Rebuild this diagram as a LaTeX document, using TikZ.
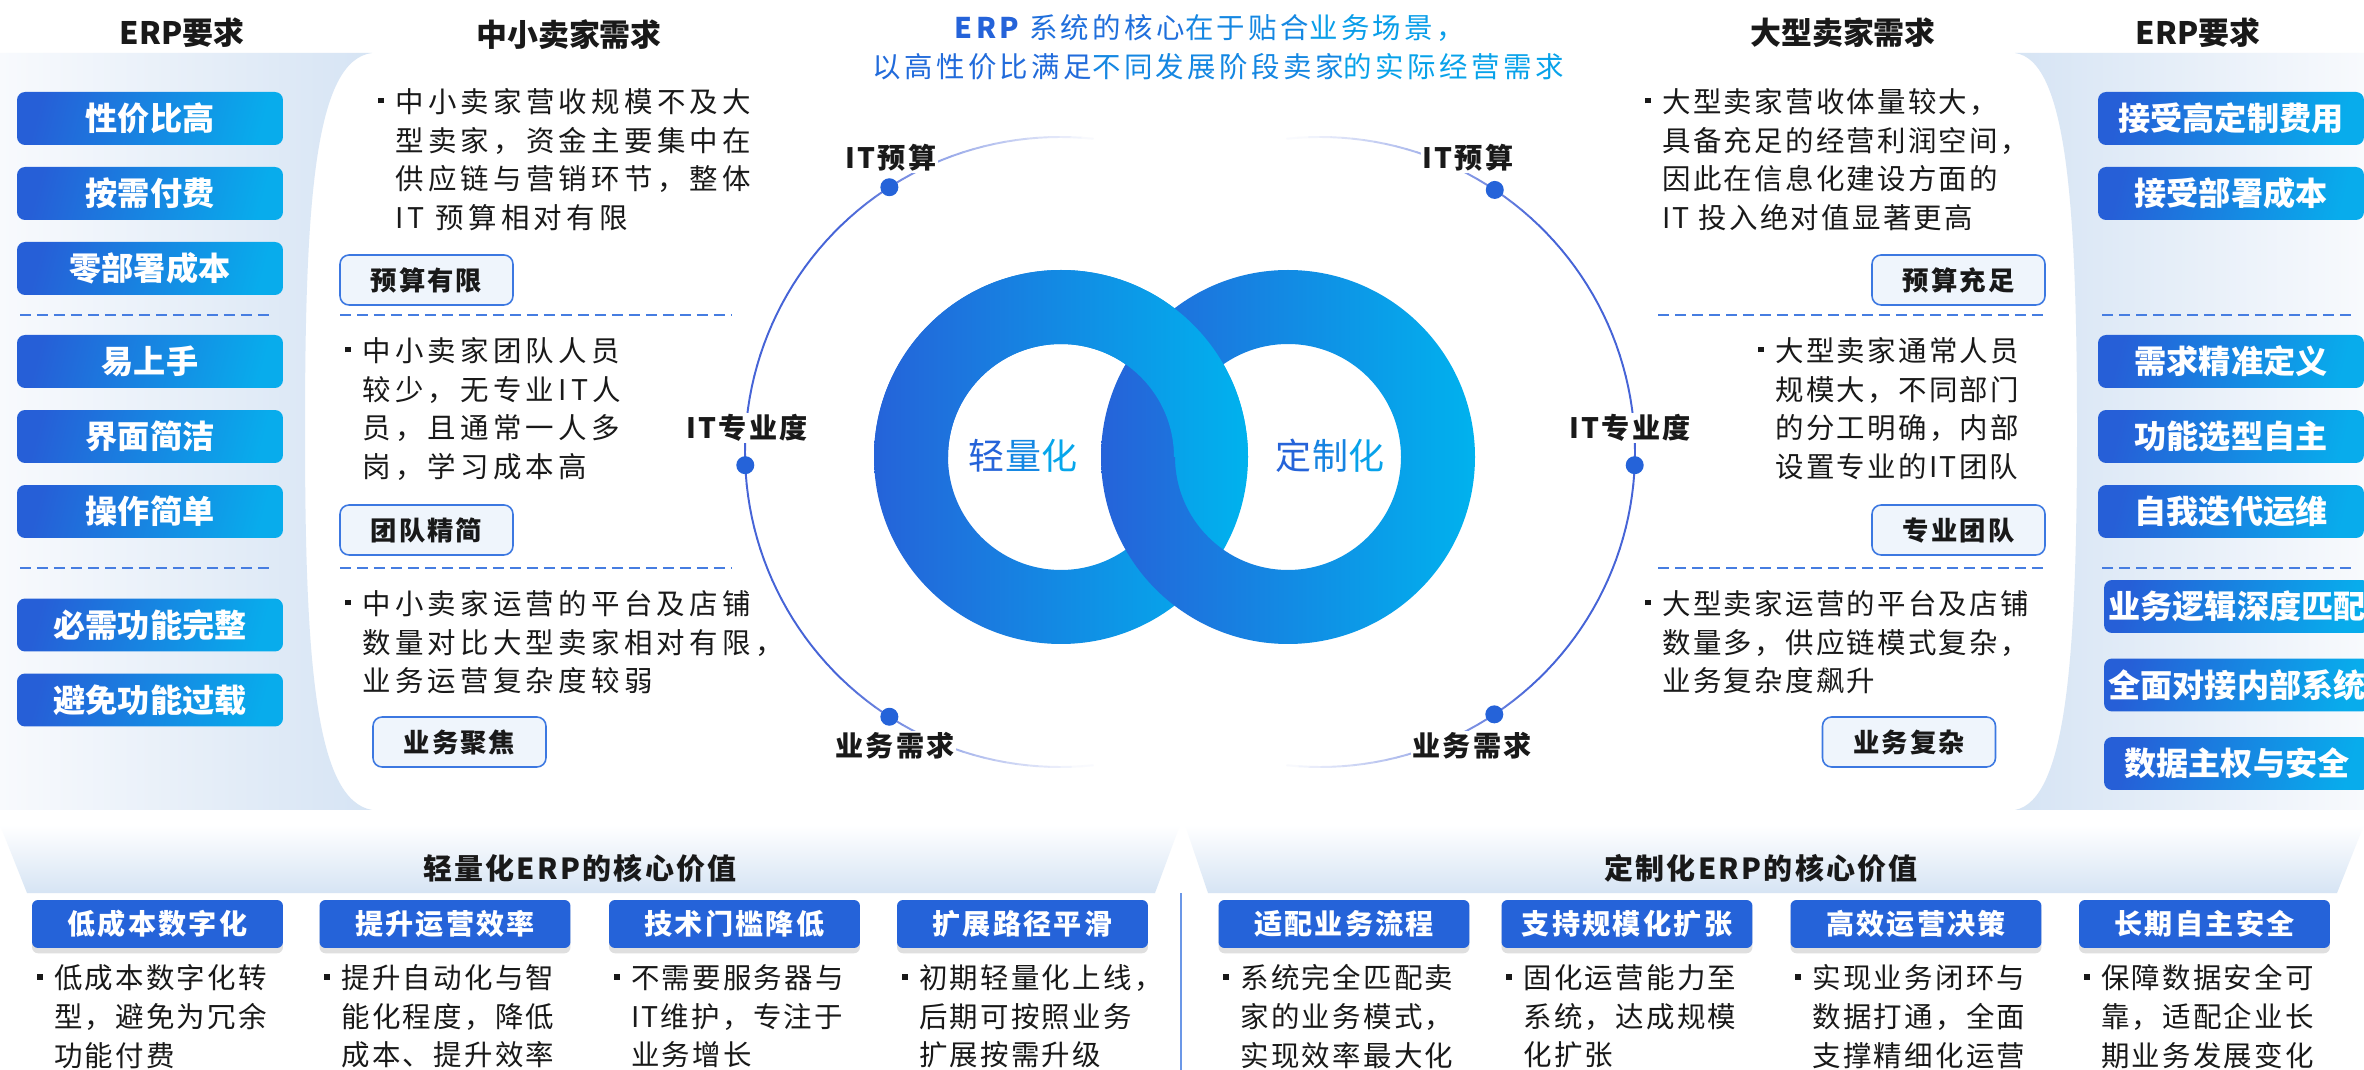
\documentclass[tikz,border=0pt]{standalone}
\usepackage{fontspec}
\setmainfont{Noto Sans CJK SC}
\newfontfamily\bodyfont[LetterSpace=15]{Noto Sans CJK SC}
\newfontfamily\tightfont[LetterSpace=8]{Noto Sans CJK SC}
\newfontfamily\titlefont[LetterSpace=12]{Noto Sans CJK SC}
\usepackage{tikz}
\usetikzlibrary{calc,positioning,shadows}
\definecolor{erpBlue}{RGB}{38,95,215}
\definecolor{erpCyan}{RGB}{8,172,236}
\definecolor{ringBlue}{RGB}{37,99,217}
\definecolor{ringCyan}{RGB}{0,178,238}
\definecolor{tagBlue}{RGB}{60,120,225}
\definecolor{tagFill}{RGB}{239,245,252}
\definecolor{dashBlue}{RGB}{70,125,225}
\definecolor{panelBlue}{RGB}{214,228,244}
\definecolor{panelWhite}{RGB}{248,250,253}
\definecolor{arcBlue}{RGB}{70,100,215}
\definecolor{valBlue}{RGB}{37,99,217}
\definecolor{inkBlack}{RGB}{25,25,25}
\newcommand\bulmark{\llap{\rule[0.32em]{0.2em}{0.2em}\hspace{0.4em}}}
\tikzset{
  erpBox/.style   = {rectangle, rounded corners=0.16cm, left color=erpBlue,
                     right color=erpCyan, shading angle=75, inner sep=0,
                     minimum width=5.32cm, minimum height=1.06cm, text=white,
                     font=\fontsize{18.3}{20}\selectfont\bfseries},
  needTag/.style  = {rectangle, rounded corners=0.18cm, draw=tagBlue,
                     line width=0.9pt, fill=tagFill, minimum width=3.46cm,
                     minimum height=1cm, text=inkBlack,
                     font=\tightfont\fontsize{15}{18}\selectfont\bfseries},
  needText/.style = {anchor=north west, align=left, inner sep=0, text=inkBlack,
                     font=\bodyfont\fontsize{16.2}{22}\selectfont},
  tightText/.style= {needText, font=\tightfont\fontsize{16.2}{22}\selectfont},
  sepLine/.style  = {draw=dashBlue, dash pattern=on 0.22cm off 0.12cm,
                     line width=0.8pt},
  headTxt/.style  = {text=inkBlack, font=\fontsize{17.6}{20}\selectfont\bfseries},
  secHead/.style  = {text=inkBlack,
                     font=\tightfont\fontsize{16.5}{20}\selectfont\bfseries},
  arcSeg/.style   = {line width=1.1pt, line cap=round},
  arcDot/.style   = {circle, fill=ringBlue, inner sep=0, minimum size=0.36cm},
  arcLabel/.style = {fill=white, inner sep=1pt, text=inkBlack,
                     font=\tightfont\fontsize{16}{18}\selectfont\bfseries},
  ringShade/.style= {left color=ringBlue, right color=ringCyan, even odd rule},
  ringTxt/.style  = {font=\titlefont\fontsize{20.5}{24}\selectfont},
  titleTxt/.style = {font=\titlefont\fontsize{16.2}{20}\selectfont},
  valBox/.style   = {rectangle, rounded corners=0.12cm, fill=valBlue,
                     minimum width=5.02cm, minimum height=0.96cm, text=white,
                     font=\tightfont\fontsize{16}{18}\selectfont\bfseries,
                     drop shadow={shadow xshift=0pt, shadow yshift=-3pt,
                                  opacity=0.25}},
}
\begin{document}
\begin{tikzpicture}[x=0.02cm, y=-0.02cm]
  \useasboundingbox (0,0) rectangle (2364,1070);
  \fill[white] (0,0) rectangle (2364,1070);
  % side panels and lower bands
  \shade[left color=panelWhite, right color=panelBlue] (0,53) -- (372,53)
      .. controls (315,60) and (305,200) .. (305,430)
      .. controls (305,660) and (315,800) .. (372,810) -- (0,810) -- cycle;
  \shade[left color=panelBlue, right color=panelWhite] (2364,53) -- (2015,53)
      .. controls (2066,60) and (2077,200) .. (2077,430)
      .. controls (2077,660) and (2066,800) .. (2015,810) -- (2364,810) -- cycle;
  \shade[top color=white, bottom color=panelBlue]
      (0,825) -- (1180,825) -- (1155,893) -- (27,893) -- cycle;
  \shade[top color=white, bottom color=panelBlue]
      (1185,825) -- (2364,825) -- (2337,893) -- (1208,893) -- cycle;
  \draw[dashBlue!80, line width=0.8pt] (1181,893) -- (1181,1070);

  % headings
  \node[headTxt] (hL) at (182,33) {ERP要求};
  \node[headTxt] (hSm) at (569,35) {中小卖家需求};
  \node[headTxt] (hLg) at (1843,33) {大型卖家需求};
  \node[headTxt] (hR) at (2198,33) {ERP要求};
  \node[titleTxt] (ttl1) at (1210,28) {\textcolor{ringBlue}{\bfseries ERP}
      \textcolor{ringBlue!85!ringCyan}{系统的核心}\textcolor{ringBlue!55!ringCyan}{在于贴合}\textcolor{ringBlue!25!ringCyan}{业务场景，}};
  \node[titleTxt] (ttl2) at (1218,67) {\textcolor{ringBlue!90!ringCyan}{以高性价比满足}\textcolor{ringBlue!55!ringCyan}{不同发展阶段卖家}\textcolor{ringBlue!20!ringCyan}{的实际经营需求}};

  % ERP requirement boxes
  \foreach \y/\t/\n in {118.5/性价比高/la, 193.5/按需付费/lb, 268.5/零部署成本/lc,
      361.5/易上手/ld, 436.5/界面简洁/le, 511.5/操作简单/lf,
      625/必需功能完整/lg, 700/避免功能过载/lh}{
    \node[erpBox] (\n) at (150,\y) {\t};
  }
  \foreach \x/\y/\t/\n in {2231/118.5/接受高定制费用/ra, 2231/193.5/接受部署成本/rb,
      2231/361.5/需求精准定义/rc, 2231/436.5/功能选型自主/rd,
      2231/511.5/自我迭代运维/re, 2237/606.5/业务逻辑深度匹配/rf,
      2237/685/全面对接内部系统/rg, 2237/763.5/数据主权与安全/rh}{
    \node[erpBox] (\n) at (\x,\y) {\t};
  }
  \draw[sepLine] (20,315) -- (273,315);
  \draw[sepLine] (20,568) -- (273,568);
  \draw[sepLine] (2102,315) -- (2355,315);
  \draw[sepLine] (2102,568) -- (2355,568);

  % small sellers
  \node[needText] (sm1) at (395,88) {\bulmark 中小卖家营收规模不及大\\型卖家，资金主要集中在\\供应链与营销环节，整体\\IT 预算相对有限};
  \node[needText] (sm2) at (362,337) {\bulmark 中小卖家团队人员\\较少，无专业IT人\\员，且通常一人多\\岗，学习成本高};
  \node[needText] (sm3) at (362,590) {\bulmark 中小卖家运营的平台及店铺\\数量对比大型卖家相对有限，\\业务运营复杂度较弱};
  \node[needTag] (tg1) at (426.5,280) {预算有限};
  \node[needTag] (tg2) at (426.5,530) {团队精简};
  \node[needTag] (tg3) at (459.5,742) {业务聚焦};
  \draw[sepLine] (340,315) -- (732,315);
  \draw[sepLine] (340,568) -- (732,568);

  % large sellers
  \node[tightText] (lg1) at (1662,88) {\bulmark 大型卖家营收体量较大，\\具备充足的经营利润空间，\\因此在信息化建设方面的\\IT 投入绝对值显著更高};
  \node[tightText] (lg2) at (1775,337) {\bulmark 大型卖家通常人员\\规模大，不同部门\\的分工明确，内部\\设置专业的IT团队};
  \node[tightText] (lg3) at (1662,590) {\bulmark 大型卖家运营的平台及店铺\\数量多，供应链模式复杂，\\业务复杂度飙升};
  \node[needTag] (tg4) at (1958.5,280) {预算充足};
  \node[needTag] (tg5) at (1958.5,530) {专业团队};
  \node[needTag] (tg6) at (1909,742) {业务复杂};
  \draw[sepLine] (1658,315) -- (2045,315);
  \draw[sepLine] (1658,568) -- (2045,568);

  % outer arcs
  \coordinate (lcen) at (1060,452);
  \coordinate (rcen) at (1320,452);
  \foreach \a in {84,86,...,274}{
    \pgfmathsetmacro\p{max(3,min(100,100*(96-abs(\a-180))/50))}
    \draw[arcSeg, draw=arcBlue!\p!white] ($(lcen)+(\a:315)$) -- ($(lcen)+(\a+2:315)$);
  }
  \foreach \a in {-96,-94,...,94}{
    \pgfmathsetmacro\p{max(3,min(100,100*(96-abs(\a))/50))}
    \draw[arcSeg, draw=arcBlue!\p!white] ($(rcen)+(\a:315)$) -- ($(rcen)+(\a+2:315)$);
  }
  \node[arcDot] (dl1) at ($(lcen)+(237.2:315)$) {};
  \node[arcDot] (dl2) at ($(lcen)+(177.6:315)$) {};
  \node[arcDot] (dl3) at ($(lcen)+(122.8:315)$) {};
  \node[arcDot] (dr1) at ($(rcen)+(303.7:315)$) {};
  \node[arcDot] (dr2) at ($(rcen)+(2.4:315)$) {};
  \node[arcDot] (dr3) at ($(rcen)+(56.4:315)$) {};
  \node[arcLabel] (bl1) at (891,158) {IT预算};
  \node[arcLabel] (bl2) at (747,428) {IT专业度};
  \node[arcLabel] (bl3) at (895,746) {业务需求};
  \node[arcLabel] (br1) at (1468,158) {IT预算};
  \node[arcLabel] (br2) at (1630,428) {IT专业度};
  \node[arcLabel] (br3) at (1472,746) {业务需求};

  % linked rings
  \coordinate (lring) at (1061,457);
  \coordinate (rring) at (1288,457);
  \shade[ringShade] (lring) circle[radius=187] (lring) circle[radius=113];
  \shade[ringShade] (rring) circle[radius=187] (rring) circle[radius=113];
  \begin{scope}
    \clip (850,250) rectangle (1500,457);
    \shade[ringShade] (lring) circle[radius=187] (lring) circle[radius=113];
  \end{scope}
  \node[ringTxt] (lite) at (1023,456) {\textcolor{ringBlue}{轻}\textcolor{ringBlue!55!ringCyan}{量}\textcolor{ringBlue!15!ringCyan}{化}};
  \node[ringTxt] (cust) at (1330,456) {\textcolor{ringBlue}{定}\textcolor{ringBlue!60!ringCyan}{制}\textcolor{ringBlue!20!ringCyan}{化}};

  % core values
  \node[secHead] (vh1) at (580,868) {轻量化ERP的核心价值};
  \node[secHead] (vh2) at (1761,868) {定制化ERP的核心价值};
  \foreach \x/\t/\n in {157.5/低成本数字化/v1, 445/提升运营效率/v2,
      734.5/技术门槛降低/v3, 1022.5/扩展路径平滑/v4, 1344/适配业务流程/v5,
      1627/支持规模化扩张/v6, 1916/高效运营决策/v7, 2204.5/长期自主安全/v8}{
    \node[valBox] (\n) at (\x,924) {\t};
  }
  \node[tightText, below right=0.32cm and 0.44cm of v1.south west] (c1) {\bulmark 低成本数字化转\\型，避免为冗余\\功能付费};
  \node[tightText, below right=0.32cm and 0.44cm of v2.south west] (c2) {\bulmark 提升自动化与智\\能化程度，降低\\成本、提升效率};
  \node[tightText, below right=0.32cm and 0.44cm of v3.south west] (c3) {\bulmark 不需要服务器与\\IT维护，专注于\\业务增长};
  \node[tightText, below right=0.32cm and 0.44cm of v4.south west] (c4) {\bulmark 初期轻量化上线，\\后期可按照业务\\扩展按需升级};
  \node[tightText, below right=0.32cm and 0.44cm of v5.south west] (c5) {\bulmark 系统完全匹配卖\\家的业务模式，\\实现效率最大化};
  \node[tightText, below right=0.32cm and 0.44cm of v6.south west] (c6) {\bulmark 固化运营能力至\\系统，达成规模\\化扩张};
  \node[tightText, below right=0.32cm and 0.44cm of v7.south west] (c7) {\bulmark 实现业务闭环与\\数据打通，全面\\支撑精细化运营};
  \node[tightText, below right=0.32cm and 0.44cm of v8.south west] (c8) {\bulmark 保障数据安全可\\靠，适配企业长\\期业务发展变化};
\end{tikzpicture}
\end{document}
